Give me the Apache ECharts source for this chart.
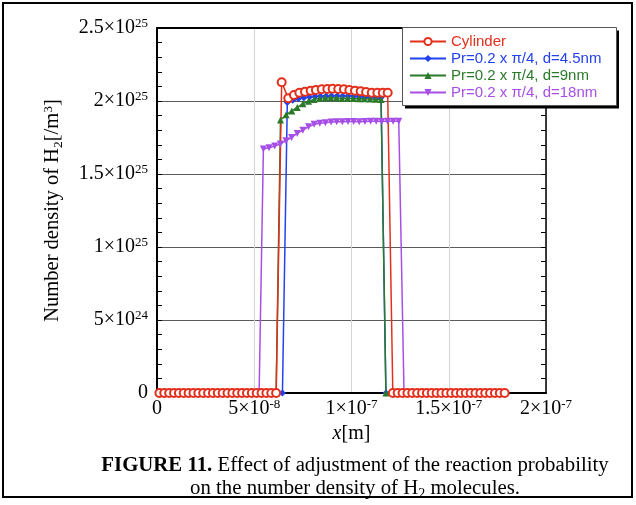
<!DOCTYPE html>
<html>
<head>
<meta charset="utf-8">
<script src="https://cdn.jsdelivr.net/npm/echarts@6/dist/echarts.min.js"></script>
<style>html,body{margin:0;padding:0;background:#fff;}#c{width:636px;height:505px;}</style>
</head>
<body>
<div id="c"></div>
<script>
// x in nm, density in units of 1e24 /m^3
const seriesNames = ['Cylinder', 'Pr=0.2 x π/4, d=4.5nm', 'Pr=0.2 x π/4, d=9nm', 'Pr=0.2 x π/4, d=18nm'];

const cylinderX = [1.25,3.75,6.25,8.75,11.25,13.75,16.25,18.75,21.25,23.75,26.25,28.75,31.25,33.75,36.25,38.75,41.25,43.75,46.25,48.75,51.25,53.75,56.25,58.75,61.25,
  64.1,67.5,70.4,73.2,76.1,79.0,81.7,84.7,87.6,90.3,93.2,96.1,98.9,101.8,104.7,107.5,110.4,113.3,116.1,118.6,
  121.25,123.75,126.25,128.75,131.25,133.75,136.25,138.75,141.25,143.75,146.25,148.75,151.25,153.75,156.25,158.75,161.25,163.75,166.25,168.75,171.25,173.75,176.25,178.75];
const cylinderY = [0,0,0,0,0,0,0,0,0,0,0,0,0,0,0,0,0,0,0,0,0,0,0,0,0,
  21.28,20.18,20.41,20.57,20.64,20.71,20.75,20.80,20.82,20.84,20.82,20.80,20.75,20.71,20.66,20.62,20.57,20.57,20.57,20.57,
  0,0,0,0,0,0,0,0,0,0,0,0,0,0,0,0,0,0,0,0,0,0,0,0];

const d45X = [1.25,64.5,67.0,69.8,72.7,75.5,78.4,81.2,84.0,86.9,89.7,92.6,95.4,98.2,101.1,103.9,106.8,109.6,112.4,115.2,117.7,178.75];
const d45Y = [0,0,19.90,20.05,20.15,20.22,20.27,20.30,20.33,20.35,20.36,20.36,20.35,20.34,20.32,20.30,20.28,20.26,20.24,20.22,0,0];

const d9X = [1.25,61.25,63.5,66.4,69.3,72.1,75.0,77.9,80.8,83.6,86.5,89.4,92.3,95.1,98.0,100.9,103.8,106.6,109.5,112.4,115.2,117.7,178.75];
const d9Y = [0,0,18.70,19.05,19.32,19.56,19.82,19.98,20.10,20.18,20.22,20.22,20.20,20.19,20.18,20.17,20.16,20.15,20.14,20.12,20.10,0,0];

const d18X = [1.25,52.5,54.7,57.6,60.5,63.4,66.3,69.2,72.1,75.0,77.9,80.8,83.7,86.6,89.5,92.4,95.3,98.2,101.1,104.0,106.9,109.8,112.7,115.6,118.5,121.4,124.3,127.0,178.75];
const d18Y = [0,0,16.71,16.80,16.92,17.05,17.28,17.50,17.78,18.00,18.24,18.40,18.47,18.51,18.56,18.58,18.58,18.60,18.60,18.58,18.60,18.62,18.62,18.60,18.62,18.62,18.62,0,0];

const xTickMantissa = ['0', '5×10', '1×10', '1.5×10', '2×10'];
const xTickExponent = ['', '-8', '-7', '-7', '-7'];
const yTickMantissa = ['0', '5×10', '1×10', '1.5×10', '2×10', '2.5×10'];
const yTickExponent = ['', '24', '25', '25', '25', '25'];

const colors = ['#e3301c', '#2341ee', '#2a7a2a', '#a64ee6'];

function pairs(xs, ys) { return xs.map((x, i) => [x, ys[i]]); }
function tickRich(m, e) { return e ? '{m|' + m + '}{s|' + e + '}' : '{m|' + m + '}'; }

const SERIF = '"Liberation Serif","Times New Roman",serif';
const SANS = '"Liberation Sans",Arial,sans-serif';
const labelRich = {
  m: { fontFamily: SERIF, fontSize: 20, color: '#000', lineHeight: 22, verticalAlign: 'middle' },
  s: { fontFamily: SERIF, fontSize: 13, color: '#000', lineHeight: 12, verticalAlign: 'top' }
};

const chart = echarts.init(document.getElementById('c'), null, { renderer: 'canvas' });

const mk = (idx, xs, ys, symbol, size, extra) => Object.assign({
  name: seriesNames[idx], type: 'line', data: pairs(xs, ys),
  symbol: symbol, symbolSize: size, showSymbol: true, showAllSymbol: true,
  lineStyle: { color: colors[idx], width: 1.5 },
  itemStyle: { color: colors[idx] },
  emphasis: { disabled: true }, animation: false,
  xAxisIndex: 0, yAxisIndex: 0
}, extra || {});

const option = {
  animation: false,
  backgroundColor: '#fff',
  grid: { left: 157, right: 90, top: 28, bottom: 112, containLabel: false },
  xAxis: [{
    type: 'value', min: 0, max: 200, interval: 50, position: 'bottom',
    axisLine: { show: true, onZero: false, lineStyle: { color: '#000', width: 2 } },
    axisTick: { show: false },
    splitLine: { show: true, lineStyle: { color: '#d4d4d4', width: 1 } },
    axisLabel: { margin: 5, formatter: (v) => { const i = Math.round(v / 50); return tickRich(xTickMantissa[i], xTickExponent[i]); }, rich: labelRich },
    name: '{i|x}{n|[m]}', nameLocation: 'middle', nameGap: 30,
    nameTextStyle: { rich: { i: { fontFamily: SERIF, fontSize: 20, fontStyle: 'italic', color: '#000' }, n: { fontFamily: SERIF, fontSize: 20, color: '#000' } } }
  }, {
    type: 'value', min: 0, max: 200, interval: 50, position: 'top',
    axisLine: { show: true, onZero: false, lineStyle: { color: '#000', width: 2 } },
    axisTick: { show: false }, axisLabel: { show: false }, splitLine: { show: false }
  }],
  yAxis: [{
    type: 'value', min: 0, max: 25, interval: 5, position: 'left',
    axisLine: { show: true, onZero: false, lineStyle: { color: '#000', width: 2 } },
    axisTick: { show: true, inside: true, length: 5, lineStyle: { color: '#000', width: 1 } },
    minorTick: { show: true, splitNumber: 5, length: 5, lineStyle: { color: '#000', width: 1 } },
    splitLine: { show: true, lineStyle: { color: '#5a5a5a', width: 1 } },
    axisLabel: { margin: 9, formatter: (v) => { const i = Math.round(v / 5); return tickRich(yTickMantissa[i], yTickExponent[i]); }, rich: labelRich },
    name: '{n|Number density of H}{b|2}{n|[/m}{t|3}{n|]}', nameLocation: 'middle', nameGap: 92, nameRotate: 90,
    nameTextStyle: { rich: {
      n: { fontFamily: SERIF, fontSize: 20.5, color: '#000', lineHeight: 24, verticalAlign: 'middle' },
      b: { fontFamily: SERIF, fontSize: 13.5, color: '#000', lineHeight: 13, verticalAlign: 'bottom' },
      t: { fontFamily: SERIF, fontSize: 13.5, color: '#000', lineHeight: 13, verticalAlign: 'top' }
    } }
  }, {
    type: 'value', min: 0, max: 25, interval: 5, position: 'right',
    axisLine: { show: true, onZero: false, lineStyle: { color: '#000', width: 1.5 } },
    axisTick: { show: true, inside: true, length: 5, lineStyle: { color: '#000', width: 1 } },
    minorTick: { show: true, splitNumber: 5, length: 5, lineStyle: { color: '#000', width: 1 } },
    splitLine: { show: false }, axisLabel: { show: false }
  }],
  legend: {
    orient: 'vertical', left: 409, top: 33, padding: 0, itemGap: 0,
    itemWidth: 36, itemHeight: 9,
    textStyle: { fontFamily: SANS, fontSize: 15, lineHeight: 17 },
    data: seriesNames.map((n, i) => ({ name: n, textStyle: { color: colors[i] } })),
    selectedMode: false, z: 10
  },
  graphic: [
    { type: 'rect', z: 3, shape: { x: 3, y: 3, width: 629, height: 494 }, style: { fill: null, stroke: '#000', lineWidth: 2 }, silent: true },
    { type: 'rect', z: 3, shape: { x: 405, y: 30.5, width: 214, height: 78 }, style: { fill: '#000' }, silent: true },
    { type: 'rect', z: 3, shape: { x: 402.5, y: 27.5, width: 214, height: 78 }, style: { fill: '#fff', stroke: '#555', lineWidth: 1 }, silent: true },
    { type: 'text', z: 3, x: 355, y: 466, silent: true, style: { text: '{b|FIGURE 11.}{r| Effect of adjustment of the reaction probability}', align: 'center', verticalAlign: 'middle', rich: {
      b: { fontFamily: SERIF, fontSize: 20.8, fontWeight: 'bold', fill: '#000' }, r: { fontFamily: SERIF, fontSize: 20.8, fill: '#000' } } } },
    { type: 'text', z: 3, x: 355, y: 489, silent: true, style: { text: '{r|on the number density of H}{s|2}{r| molecules.}', align: 'center', verticalAlign: 'middle', rich: {
      r: { fontFamily: SERIF, fontSize: 20.8, fill: '#000', lineHeight: 24, verticalAlign: 'middle' },
      s: { fontFamily: SERIF, fontSize: 14, fill: '#000', lineHeight: 14, verticalAlign: 'bottom' } } } }
  ],
  series: [
    mk(3, d18X, d18Y, 'triangle', 7, { symbolRotate: 180 }),
    mk(1, d45X, d45Y, 'diamond', 7),
    mk(2, d9X, d9Y, 'triangle', 7),
    mk(0, cylinderX, cylinderY, 'emptyCircle', 8, { itemStyle: { color: colors[0], borderWidth: 1.2 } })
  ]
};
chart.setOption(option);
</script>
</body>
</html>
